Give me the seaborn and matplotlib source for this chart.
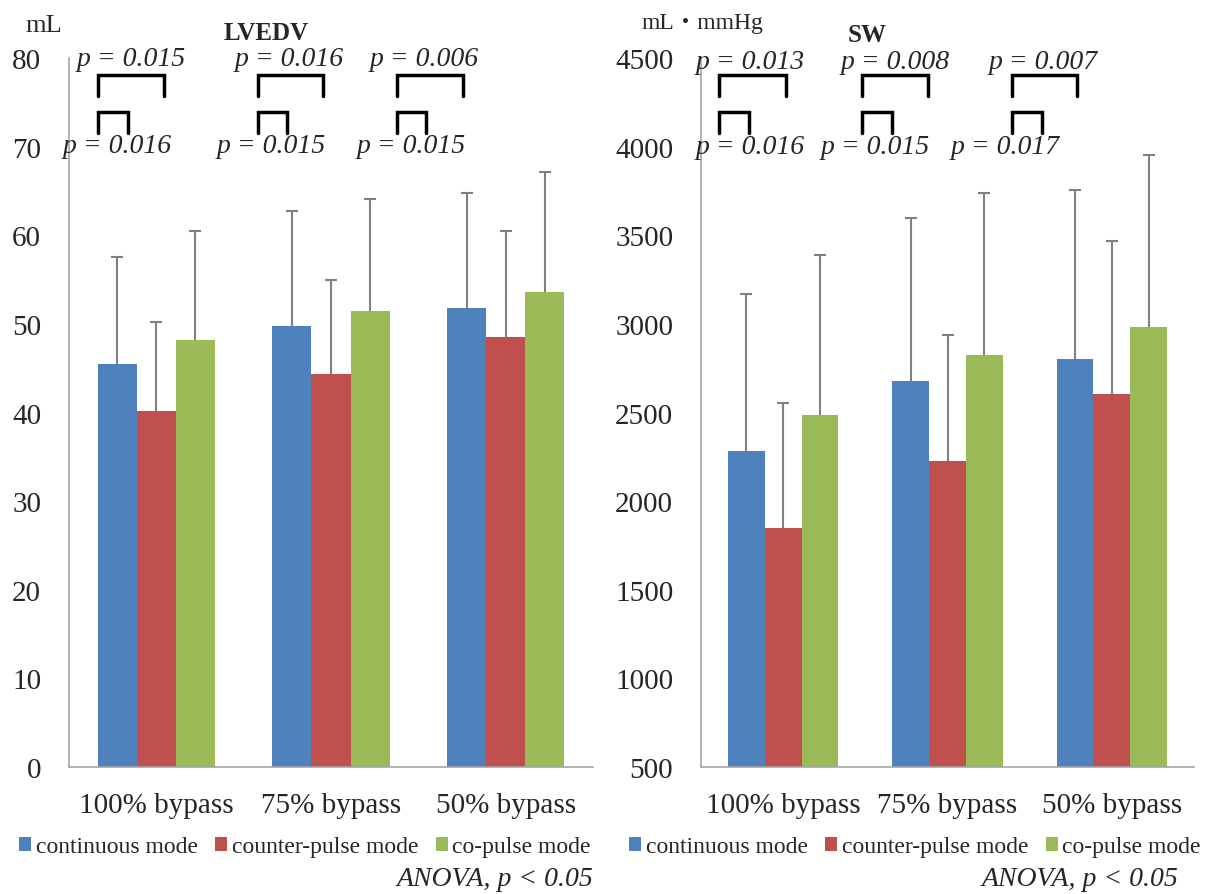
import matplotlib
matplotlib.use('Agg')
import matplotlib.pyplot as plt
from matplotlib.patches import Patch
import seaborn as sns
import pandas as pd
import numpy as np

# data
categories = ['100% bypass', '75% bypass', '50% bypass']
modes = ['continuous mode', 'counter-pulse mode', 'co-pulse mode']
colors = ['#4F81BD', '#C0504D', '#9BBB59']

lvedv_mean = {
    'continuous mode': [45.5, 49.8, 51.8],
    'counter-pulse mode': [40.2, 44.3, 48.5],
    'co-pulse mode': [48.2, 51.5, 53.6],
}
lvedv_sd = {
    'continuous mode': [12.1, 12.9, 13.0],
    'counter-pulse mode': [10.0, 10.6, 12.0],
    'co-pulse mode': [12.3, 12.6, 13.5],
}
sw_mean = {
    'continuous mode': [2280, 2678, 2803],
    'counter-pulse mode': [1850, 2225, 2605],
    'co-pulse mode': [2485, 2824, 2981],
}
sw_sd = {
    'continuous mode': [887, 921, 950],
    'counter-pulse mode': [705, 712, 864],
    'co-pulse mode': [904, 916, 973],
}

lvedv_p_top = ['p = 0.015', 'p = 0.016', 'p = 0.006']
lvedv_p_bottom = ['p = 0.016', 'p = 0.015', 'p = 0.015']
sw_p_top = ['p = 0.013', 'p = 0.008', 'p = 0.007']
sw_p_bottom = ['p = 0.016', 'p = 0.015', 'p = 0.017']

# bracket / label placement (category units)
lvedv_bracket_x = [(-0.334, -0.163, 0.043), (0.58, 0.746, 0.957), (1.38, 1.546, 1.757)]
lvedv_text_x = [(-0.146, -0.226), (0.763, 0.66), (1.534, 1.46)]
sw_bracket_x = [(-0.391, -0.209, 0.015), (0.482, 0.664, 0.882), (1.391, 1.573, 1.791)]
sw_text_x = [(-0.203, -0.203), (0.682, 0.561), (1.585, 1.348)]

sns.set_style('white')
plt.rcParams['font.family'] = ['Liberation Serif', 'Noto Sans CJK JP']

AXIS_GRAY = '#A6A6A6'


def to_long(means):
    rows = []
    for m in modes:
        for c, v in zip(categories, means[m]):
            rows.append({'bypass': c, 'mode': m, 'value': v})
    return pd.DataFrame(rows)


def draw_panel(ax, means, sds, ylim, yticks, brackets, texts, p_top, p_bottom,
               br_y, txt_y):
    df = to_long(means)
    sns.barplot(data=df, x='bypass', y='value', hue='mode', order=categories,
                hue_order=modes, palette=colors, saturation=1, width=0.67,
                errorbar=None, legend=False, linewidth=0, ax=ax)

    # upward-only error bars (hide the lower cap)
    for m, cont in zip(modes, ax.containers):
        xs = [b.get_x() + b.get_width() / 2 for b in cont]
        hs = [b.get_height() for b in cont]
        eb = ax.errorbar(xs, hs, yerr=[np.zeros(len(hs)), sds[m]], fmt='none',
                         ecolor='#808080', elinewidth=1.5, capsize=4, capthick=1.5)
        eb[1][0].set_visible(False)

    ax.set_xlim(-0.5, 2.5)
    ax.set_ylim(*ylim)
    ax.set_yticks(yticks)
    ax.set_xlabel('')
    ax.set_ylabel('')
    for s in ['top', 'right']:
        ax.spines[s].set_visible(False)
    for s in ['left', 'bottom']:
        ax.spines[s].set_color(AXIS_GRAY)
        ax.spines[s].set_linewidth(1.2)
    ax.set_xticks([-0.5, 0.5, 1.5, 2.5], minor=True)
    ax.tick_params(axis='x', which='major', length=0, pad=18, labelsize=21)
    ax.tick_params(axis='x', which='minor', length=8, color=AXIS_GRAY, width=1.2)
    ax.tick_params(axis='y', length=8, color=AXIS_GRAY, width=1.2, labelsize=21, pad=12)

    # significance brackets
    y_hi, y_hi_leg, y_lo, y_lo_leg = br_y
    for (x0, xs, xl), (tx_top, tx_bot), pt, pb in zip(brackets, texts, p_top, p_bottom):
        ax.plot([x0, x0, xl, xl], [y_hi_leg, y_hi, y_hi, y_hi_leg], color='black',
                lw=2.5, clip_on=False, solid_joinstyle='miter')
        ax.plot([x0, x0, xs, xs], [y_lo_leg, y_lo, y_lo, y_lo_leg], color='black',
                lw=2.5, clip_on=False, solid_joinstyle='miter')
        ax.text(tx_top, txt_y[0], pt, ha='center', va='center', fontsize=20,
                style='italic', clip_on=False)
        ax.text(tx_bot, txt_y[1], pb, ha='center', va='center', fontsize=20,
                style='italic', clip_on=False)


fig = plt.figure(figsize=(12.05, 8.95), dpi=100)
ax1 = fig.add_axes([69 / 1205, 127 / 895, 524 / 1205, 709 / 895])
ax2 = fig.add_axes([701 / 1205, 127 / 895, 493 / 1205, 709 / 895])

draw_panel(ax1, lvedv_mean, lvedv_sd, (0, 80), np.arange(0, 81, 10),
           lvedv_bracket_x, lvedv_text_x, lvedv_p_top, lvedv_p_bottom,
           (78.1, 75.7, 73.9, 71.5), (79.9, 70.1))
draw_panel(ax2, sw_mean, sw_sd, (500, 4500), np.arange(500, 4501, 500),
           sw_bracket_x, sw_text_x, sw_p_top, sw_p_bottom,
           (4404, 4286, 4195, 4077), (4483, 4003))

# units and titles
fig.text(25 / 1205, 1 - 26 / 895, 'mL', fontsize=19, va='center', ha='left')
fig.text(266 / 1205, 1 - 33 / 895, 'LVEDV', fontsize=18, fontweight='bold',
         va='center', ha='center')
fig.text(642 / 1205, 1 - 23 / 895, 'mL・mmHg', fontsize=17, va='center', ha='left')
fig.text(867 / 1205, 1 - 35 / 895, 'SW', fontsize=18, fontweight='bold',
         va='center', ha='center')

# legends below each panel
handles = [Patch(facecolor=c, edgecolor='none') for c in colors]
for cx in [305, 915]:
    fig.legend(handles, modes, loc='center', ncol=3, frameon=False,
               bbox_to_anchor=(cx / 1205, 1 - 848 / 895), fontsize=17,
               handlelength=0.5, handleheight=0.55, handletextpad=0.2,
               columnspacing=0.75, borderpad=0)

fig.text(593 / 1205, 1 - 880 / 895, 'ANOVA, p < 0.05', fontsize=20,
         style='italic', ha='right', va='center')
fig.text(1178 / 1205, 1 - 880 / 895, 'ANOVA, p < 0.05', fontsize=20,
         style='italic', ha='right', va='center')

fig.savefig('out.png', dpi=100)
